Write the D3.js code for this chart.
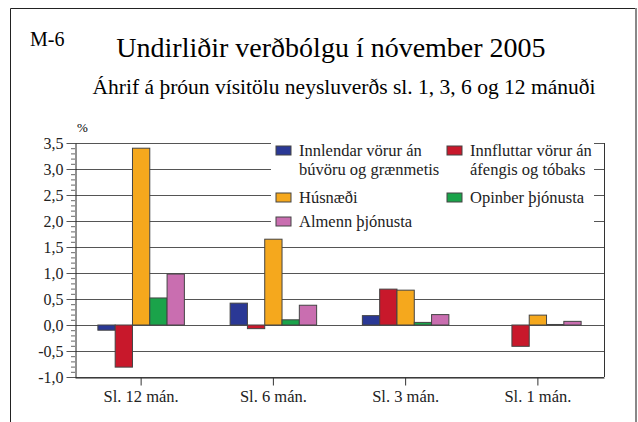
<!DOCTYPE html>
<html>
<head>
<meta charset="utf-8">
<script src="https://cdn.jsdelivr.net/npm/d3@7/dist/d3.min.js"></script>
<style>
  html, body { margin: 0; padding: 0; background: #fff; }
  svg { display: block; font-family: 'Liberation Serif', 'Times New Roman', serif; }
</style>
</head>
<body>
<div class="chart"></div>
<script>
'use strict';

const categories = ['Sl. 12 mán.', 'Sl. 6 mán.', 'Sl. 3 mán.', 'Sl. 1 mán.'];
const seriesNames = ['Innlendar vörur án búvöru og grænmetis', 'Innfluttar vörur án áfengis og tóbaks', 'Húsnæði', 'Opinber þjónusta', 'Almenn þjónusta'];
const innlendar = [-0.1, 0.42, 0.18, 0.0];
const innfluttar = [-0.81, -0.07, 0.69, -0.41];
const husnaedi = [3.4, 1.65, 0.67, 0.19];
const opinber = [0.52, 0.1, 0.05, 0.01];
const almenn = [0.98, 0.38, 0.2, 0.07];
const yTicks = [-1, -0.5, 0, 0.5, 1, 1.5, 2, 2.5, 3, 3.5];

const colors = ['#2a3895', '#c8182b', '#f5a81d', '#1aa34a', '#c96eb0'];
const seriesValues = [innlendar, innfluttar, husnaedi, opinber, almenn];

const W = 638, H = 422;
const margin = {top: 143, right: 34, bottom: 45, left: 75};

const locale = d3.formatLocale({decimal: ',', thousands: '.', grouping: [3], currency: ['', ''], minus: '-'});
const fmt = locale.format('.1f');

const svg = d3.select('.chart')
  .append('svg')
    .attr('width', W)
    .attr('height', H);

// frame
svg.append('path')
  .attr('d', `M10.5,${H + 5} V8.5 H636`)
  .attr('fill', 'none')
  .attr('stroke', '#222')
  .attr('stroke-width', 1);
svg.append('line')
  .attr('x1', 636).attr('x2', 636)
  .attr('y1', 8).attr('y2', H)
  .attr('stroke', '#888')
  .attr('stroke-width', 2);

svg.append('text')
  .attr('x', 30).attr('y', 46)
  .attr('font-size', 20)
  .text('M-6');

svg.append('text')
  .attr('x', 331).attr('y', 57)
  .attr('text-anchor', 'middle')
  .attr('font-size', 28)
  .text('Undirliðir verðbólgu í nóvember 2005');

svg.append('text')
  .attr('x', 344).attr('y', 94)
  .attr('text-anchor', 'middle')
  .attr('font-size', 21.5)
  .text('Áhrif á þróun vísitölu neysluverðs sl. 1, 3, 6 og 12 mánuði');

svg.append('text')
  .attr('x', 77).attr('y', 132)
  .attr('font-size', 13)
  .text('%');

const x = d3.scaleBand()
  .domain(categories)
  .range([margin.left, W - margin.right]);

const groupW = 86.5;
const x1 = d3.scaleBand()
  .domain(d3.range(seriesNames.length))
  .range([0, groupW]);

const y = d3.scaleLinear()
  .domain([-1, 3.5])
  .range([H - margin.bottom, margin.top]);

// gridlines
svg.append('g')
  .selectAll('line')
  .data(yTicks)
  .join('line')
    .attr('x1', margin.left)
    .attr('x2', W - margin.right)
    .attr('y1', (d) => Math.round(y(d)) + 0.5)
    .attr('y2', (d) => Math.round(y(d)) + 0.5)
    .attr('stroke', '#555')
    .attr('stroke-width', 1);

// legend background hides gridlines
svg.append('rect')
  .attr('x', 271).attr('y', 136)
  .attr('width', 323).attr('height', 98)
  .attr('fill', '#fff');

// right border
svg.append('line')
  .attr('x1', W - margin.right + 0.5).attr('x2', W - margin.right + 0.5)
  .attr('y1', y(3.5)).attr('y2', y(-1))
  .attr('stroke', '#333');

// minor ticks
const minor = d3.range(-10, 36).map((d) => d / 10);
svg.append('g')
  .attr('transform', `translate(${margin.left},0)`)
  .call(d3.axisLeft(y).tickValues(minor).tickSize(4).tickFormat(''))
  .call((g) => g.select('.domain').remove())
  .call((g) => g.selectAll('line').attr('stroke', '#666'));

// left axis
svg.append('g')
  .attr('transform', `translate(${margin.left + 0.5},0)`)
  .call(d3.axisLeft(y).tickValues(yTicks).tickSize(9).tickPadding(3).tickSizeOuter(0).tickFormat(fmt))
  .call((g) => g.select('.domain').attr('stroke', '#222'))
  .call((g) => g.selectAll('line').attr('stroke', '#555'))
  .call((g) => g.selectAll('text')
    .attr('font-family', "'Liberation Serif', serif")
    .attr('font-size', 16)
    .attr('fill', '#222'));

// bars
const rows = [];
categories.forEach((c, i) => {
  seriesValues.forEach((vals, s) => {
    rows.push({cat: c, s: s, v: vals[i]});
  });
});

svg.append('g')
  .selectAll('rect')
  .data(rows)
  .join('rect')
    .attr('x', (d) => x(d.cat) + (x.bandwidth() - groupW) / 2 + x1(d.s))
    .attr('y', (d) => y(Math.max(0, d.v)))
    .attr('width', x1.bandwidth())
    .attr('height', (d) => Math.abs(y(d.v) - y(0)))
    .attr('fill', (d) => colors[d.s])
    .attr('stroke', '#444')
    .attr('stroke-width', 1);

// bottom axis
svg.append('g')
  .attr('transform', `translate(0,${y(-1) + 0.5})`)
  .call(d3.axisBottom(x).tickSize(8).tickSizeOuter(0).tickPadding(5))
  .call((g) => g.select('.domain').attr('stroke', '#222'))
  .call((g) => g.selectAll('line').attr('stroke', '#333'))
  .call((g) => g.selectAll('text')
    .attr('font-family', "'Liberation Serif', serif")
    .attr('font-size', 16.5)
    .attr('fill', '#222'));

// legend
const legendItems = [
  {s: 0, x: 276, y: 146, lines: ['Innlendar vörur án', 'búvöru og grænmetis']},
  {s: 1, x: 447, y: 146, lines: ['Innfluttar vörur án', 'áfengis og tóbaks']},
  {s: 2, x: 276, y: 193, lines: [seriesNames[2]]},
  {s: 3, x: 447, y: 193, lines: [seriesNames[3]]},
  {s: 4, x: 276, y: 217, lines: [seriesNames[4]]}
];

const legend = svg.append('g');
legendItems.forEach((item) => {
  const g = legend.append('g').attr('transform', `translate(${item.x},${item.y})`);
  g.append('rect')
    .attr('width', 15).attr('height', 9)
    .attr('fill', colors[item.s])
    .attr('stroke', '#444');
  item.lines.forEach((l, i) => {
    g.append('text')
      .attr('x', 23)
      .attr('y', 10 + i * 19)
      .attr('font-size', 16.5)
      .attr('fill', '#222')
      .text(l);
  });
});
</script>
</body>
</html>
